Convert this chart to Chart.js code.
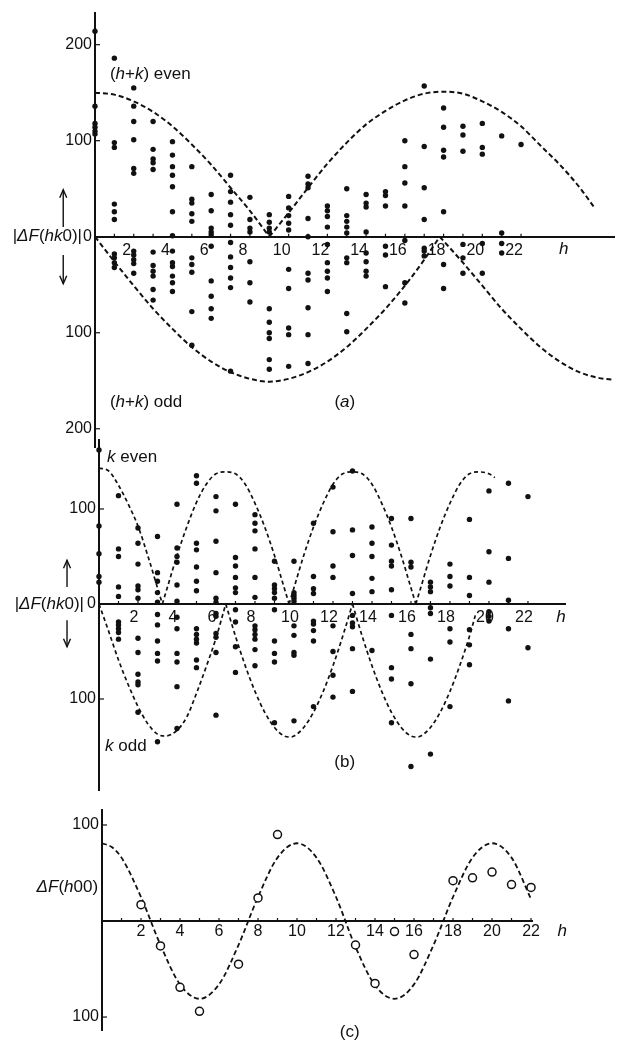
<!DOCTYPE html>
<html>
<head>
<meta charset="utf-8">
<script src="https://cdn.jsdelivr.net/npm/chart.js@4.4.1/dist/chart.umd.min.js"></script>
<style>
  html, body { margin: 0; padding: 0; background: #fff; }
  body { width: 618px; height: 1042px; position: relative; overflow: hidden; }
  canvas { position: absolute; left: 0; }
</style>
</head>
<body>
<canvas id="chartA" width="618" height="460" style="top:0px"></canvas>
<canvas id="chartB" width="618" height="370" style="top:430px"></canvas>
<canvas id="chartC" width="618" height="242" style="top:800px"></canvas>
<script>
const INK = '#111';

// labelled h values on every panel, and value-axis ticks per panel
const hLabels = [2, 4, 6, 8, 10, 12, 14, 16, 18, 20, 22];
const yTicksA = [200, 100, 0, -100, -200];
const yTicksB = [100, 0, -100];
const yTicksC = [100, -100];

// (a) |ΔF(hk0)|, one list per h = 0..22
const evenA = [
  [214, 136, 118, 114, 110, 107], [186, 98, 93, 34, 26, 18], [155, 136, 120, 101, 71, 66],
  [120, 91, 81, 77, 70], [99, 85, 73, 64, 52, 26, 1], [73, 39, 35, 24, 16],
  [44, 27, 9, 5, 2], [64, 47, 36, 23, 12], [41, 18, 9, 5], [23, 15, 9, 5],
  [42, 30, 22, 14, 7], [63, 55, 51, 19, 0], [32, 27, 21, 10], [50, 22, 16, 10, 4],
  [44, 35, 31, 5], [47, 43, 32], [100, 73, 56, 32], [157, 94, 51, 18],
  [134, 114, 90, 83, 26], [115, 106, 89], [118, 93, 86], [105, 4], [96]
];
const oddA = [
  [], [18, 22, 27, 32], [15, 19, 24, 28, 38], [16, 30, 36, 41, 55, 66],
  [15, 27, 31, 41, 48, 57], [22, 29, 37, 78, 113], [10, 46, 62, 75, 85],
  [6, 21, 32, 43, 53, 140], [26, 48, 68], [75, 89, 100, 106, 128, 138],
  [34, 54, 95, 102, 135], [38, 45, 74, 102, 132], [8, 27, 36, 43, 57],
  [22, 27, 80, 99], [17, 26, 36, 41], [10, 19, 52], [4, 48, 69], [12, 15, 20],
  [29, 54], [8, 22, 38], [7, 38], [7, 17], []
];

// (b) |ΔF(hk0)|, one list per h = 0..22
const evenB = [
  [162, 82, 53, 29, 23], [114, 58, 50, 18, 8], [80, 64, 42, 19, 15, 6], [71, 33, 24, 12, 2],
  [105, 59, 50, 44, 20, 3], [135, 127, 64, 57, 39, 24, 14], [113, 98, 66, 33, 6, 2],
  [105, 49, 40, 28, 17, 12], [94, 85, 77, 58, 28, 7], [45, 20, 16, 12, 6], [45, 12, 9, 6, 3],
  [85, 29, 16, 11], [123, 76, 40, 28], [140, 78, 51, 11], [81, 64, 50, 27, 13],
  [90, 62, 45, 40, 15], [90, 44, 39], [23, 18, 13], [42, 29, 19], [89, 28, 9],
  [119, 55, 23], [127, 48, 4], [113]
];
const oddB = [
  [], [19, 22, 26, 30, 37], [36, 51, 74, 82, 85, 114], [11, 22, 39, 52, 60, 145],
  [14, 26, 52, 61, 87, 131], [26, 32, 37, 41, 59, 67], [10, 13, 31, 35, 51, 117],
  [6, 19, 45, 72], [23, 27, 32, 37, 48, 65], [6, 39, 52, 61, 125], [23, 33, 51, 54, 123],
  [18, 21, 28, 39, 108], [23, 50, 75, 98], [12, 20, 24, 47, 92], [49], [12, 67, 79, 125],
  [32, 47, 84, 171], [4, 10, 58, 158], [26, 40, 108], [27, 43, 64], [8, 13, 18], [26, 102], [46]
];

// (c) ΔF(h00)
const hC = [2, 3, 4, 5, 7, 8, 9, 13, 14, 15, 16, 18, 19, 20, 21, 22];
const fC = [17, -26, -69, -94, -45, 24, 90, -25, -65, -11, -35, 42, 45, 51, 38, 35];

// calculated curves as [h, value]; a null value breaks the line at a cusp
const curveEvenA = [
  [0, 150], [1, 148], [2, 141], [3, 130], [4, 115], [5, 96], [6, 75], [7, 51], [8, 27], [9, 0],
  [9, null], [9, 0], [10, 25], [11, 51], [12, 76], [13, 98], [14, 117], [15, 131], [16, 142],
  [17, 149], [18, 151], [19, 149], [20, 141], [21, 130], [22, 115], [23, 95], [24, 75], [25, 52], [25.8, 30]
];
const curveOddA = [
  [0, 0], [1, 26], [2, 51], [3, 75], [4, 96], [5, 115], [6, 130], [7, 141], [8, 148], [9, 151],
  [10, 148], [11, 141], [12, 130], [13, 115], [14, 96], [15, 75], [16, 51], [17, 24], [17.8, 0],
  [17.8, null], [17.8, 0], [19, 27], [20, 51], [21, 75], [22, 96], [23, 115], [24, 130], [25, 141],
  [26, 147], [26.8, 149]
];
const curveEvenB = [
  [0, 143], [0.5, 140], [1, 125], [1.5, 105], [2, 82], [2.5, 51], [3, 17], [3.25, 0],
  [3.25, null], [3.25, 0], [3.5, 17], [4, 51], [4.5, 81], [5, 107], [5.5, 126], [6, 137], [6.5, 139],
  [7, 137], [7.5, 126], [8, 106], [8.5, 81], [9, 51], [9.5, 17], [9.75, 0],
  [9.75, null], [9.75, 0], [10, 17], [10.5, 51], [11, 81], [11.5, 106], [12, 126], [12.5, 137], [13, 139],
  [13.5, 137], [14, 126], [14.5, 106], [15, 81], [15.5, 51], [16, 17], [16.25, 0],
  [16.25, null], [16.25, 0], [16.5, 17], [17, 51], [17.5, 81], [18, 106], [18.5, 126], [19, 137],
  [19.5, 139], [20, 137], [20.3, 133]
];
const curveOddB = [
  [0, 0], [0.5, 29], [1, 59], [1.5, 85], [2, 108], [2.5, 126], [3, 137], [3.4, 139], [4, 133],
  [4.5, 119], [5, 94], [5.5, 66], [6, 36], [6.5, 0],
  [6.5, null], [6.5, 0], [7, 34], [7.5, 65], [8, 92], [8.5, 114], [9, 130], [9.5, 139], [9.75, 140],
  [10, 139], [10.5, 130], [11, 114], [11.5, 92], [12, 65], [12.5, 34], [13, 0],
  [13, null], [13, 0], [13.5, 34], [14, 65], [14.5, 92], [15, 114], [15.5, 130], [16, 139], [16.25, 140],
  [16.5, 139], [17, 130], [17.5, 114], [18, 92], [18.5, 65], [19, 34], [19.3, 12]
];
const curveC = [
  [0, 81], [0.5, 77], [1, 66], [2, 25], [3, -25], [4, -66], [5, -81], [6, -66], [7, -25], [8, 25],
  [9, 66], [10, 81], [11, 66], [12, 25], [13, -27], [14, -67], [15, -81], [16, -66], [17, -25],
  [18, 25], [19, 66], [20, 81], [21, 66], [22, 23]
];

Chart.defaults.font.family = '"Liberation Sans", Arial, sans-serif';
Chart.defaults.font.size = 16;
Chart.defaults.color = INK;

function columnsToPoints(cols, sign) {
  const pts = [];
  cols.forEach((vals, h) => vals.forEach(v => pts.push({ x: h, y: sign * v })));
  return pts;
}
function curveToPoints(pairs, sign) {
  return pairs.map(([h, v]) => ({ x: h, y: v === null ? null : sign * v }));
}

function dots(data) {
  return { data, pointRadius: 2.7, pointBackgroundColor: INK, pointBorderWidth: 0, clip: false };
}
function dashed(data, width, dash) {
  return {
    data, showLine: true, pointRadius: 0, borderColor: INK, borderWidth: width, borderDash: dash,
    cubicInterpolationMode: 'monotone', spanGaps: false, clip: false
  };
}

// text made of upright and italic pieces, e.g. |ΔF(hk0)|
function drawRuns(ctx, runs, x, y, align, size) {
  const fonts = runs.map(r => (r[1] ? 'italic ' : '') + size + 'px "Liberation Sans", Arial, sans-serif');
  let total = 0;
  const widths = runs.map((r, i) => {
    ctx.font = fonts[i];
    const w = ctx.measureText(r[0]).width;
    total += w;
    return w;
  });
  let cx = align === 'right' ? x - total : align === 'center' ? x - total / 2 : x;
  ctx.textAlign = 'left';
  ctx.textBaseline = 'middle';
  runs.forEach((r, i) => {
    ctx.font = fonts[i];
    ctx.fillText(r[0], cx, y);
    cx += widths[i];
  });
}

const figureMarks = {
  id: 'figureMarks',
  afterDraw(chart, args, opts) {
    const { ctx } = chart;
    const xs = chart.scales.x, ys = chart.scales.y;
    ctx.save();
    ctx.strokeStyle = INK;
    ctx.fillStyle = INK;
    ctx.lineWidth = 1.2;
    // short marks above the h axis at every unit
    const y0 = ys.getPixelForValue(0);
    for (let h = 1; h <= 22; h++) {
      const px = xs.getPixelForValue(h);
      ctx.beginPath(); ctx.moveTo(px, y0); ctx.lineTo(px, y0 - 3); ctx.stroke();
    }
    // value ticks pointing into the plot
    opts.yTicks.forEach(v => {
      if (v === 0) return;
      const py = ys.getPixelForValue(v);
      ctx.beginPath(); ctx.moveTo(xs.left, py); ctx.lineTo(xs.left + 5, py); ctx.stroke();
    });
    (opts.labels || []).forEach(l => {
      drawRuns(ctx, l.runs, xs.getPixelForValue(l.h), ys.getPixelForValue(l.v), l.align || 'left', l.size || 17);
    });
    (opts.arrows || []).forEach(a => {
      const px = xs.getPixelForValue(a.h);
      const p1 = ys.getPixelForValue(a.from), p2 = ys.getPixelForValue(a.to);
      const dir = Math.sign(p2 - p1);
      ctx.lineWidth = 1.4;
      ctx.beginPath(); ctx.moveTo(px, p1); ctx.lineTo(px, p2); ctx.stroke();
      ctx.beginPath();
      ctx.moveTo(px - 3.5, p2 - dir * 8); ctx.lineTo(px, p2); ctx.lineTo(px + 3.5, p2 - dir * 8);
      ctx.stroke();
    });
    ctx.restore();
  }
};

function makeChart(id, datasets, cfg) {
  return new Chart(document.getElementById(id), {
    type: 'scatter',
    data: { datasets },
    options: {
      responsive: false,
      animation: false,
      events: [],
      layout: { padding: cfg.padding },
      plugins: {
        legend: { display: false },
        tooltip: { enabled: false },
        figureMarks: cfg.marks
      },
      scales: {
        x: {
          type: 'linear', min: 0, max: cfg.hMax,
          position: { y: 0 },
          grid: { drawOnChartArea: false, drawTicks: false },
          border: { color: INK, width: 2 },
          ticks: { padding: cfg.hPad, labelOffset: cfg.hShift, autoSkip: false, maxRotation: 0 },
          afterBuildTicks: sc => { sc.ticks = hLabels.map(v => ({ value: v })); },
          afterFit: sc => { sc.paddingLeft = 0; sc.paddingRight = 0; }
        },
        y: {
          type: 'linear', min: cfg.vMin, max: cfg.vMax, position: 'left',
          grid: { drawOnChartArea: false, drawTicks: false },
          border: { color: INK, width: 2 },
          ticks: { padding: 3, callback: v => String(Math.abs(v)) },
          afterBuildTicks: sc => { sc.ticks = cfg.marks.yTicks.map(v => ({ value: v })); },
          afterFit: sc => { sc.width = cfg.yWidth; sc.paddingTop = 0; sc.paddingBottom = 0; }
        }
      }
    },
    plugins: [figureMarks]
  });
}

const absLabel = [['|', 0], ['ΔF', 1], ['(', 0], ['hk', 1], ['0)|', 0]];

// (a) (h+k) even above the axis, (h+k) odd below
makeChart('chartA', [
  dots(columnsToPoints(evenA, 1)),
  dots(columnsToPoints(oddA, -1)),
  dashed(curveToPoints(curveEvenA, 1), 2, [5, 3]),
  dashed(curveToPoints(curveOddA, -1), 2, [5, 3])
], {
  padding: { top: 13, bottom: 13, left: 0, right: 0 },
  yWidth: 95, hMax: 26.8, vMin: -219, vMax: 233, hPad: 4, hShift: -7,
  marks: {
    yTicks: yTicksA,
    labels: [
      { h: 0.77, v: 169, runs: [['(', 0], ['h', 1], ['+', 0], ['k', 1], [') even', 0]] },
      { h: 0.77, v: -172, runs: [['(', 0], ['h', 1], ['+', 0], ['k', 1], [') odd', 0]] },
      { h: 12.9, v: -172, align: 'center', runs: [['(', 0], ['a', 1], [')', 0]] },
      { h: 24.2, v: -13.5, align: 'center', runs: [['h', 1]] },
      { h: -0.67, v: 0, align: 'right', runs: absLabel }
    ],
    arrows: [{ h: -1.64, from: 10, to: 49 }, { h: -1.64, from: -19, to: -49 }]
  }
});

// (b) k even above the axis, k odd below
makeChart('chartB', [
  dots(columnsToPoints(evenB, 1)),
  dots(columnsToPoints(oddB, -1)),
  dashed(curveToPoints(curveEvenB, 1), 1.7, [4, 3]),
  dashed(curveToPoints(curveOddB, -1), 1.7, [4, 3])
], {
  padding: { top: 10, bottom: 10, left: 0, right: 53 },
  yWidth: 99, hMax: 23.9, vMin: -195.8, vMax: 172.6, hPad: 4, hShift: -4,
  marks: {
    yTicks: yTicksB,
    labels: [
      { h: 0.41, v: 154, runs: [['k', 1], [' even', 0]] },
      { h: 0.31, v: -150, runs: [['k', 1], [' odd', 0]] },
      { h: 12.6, v: -167, align: 'center', runs: [['(b)', 0]] },
      { h: 23.7, v: -13.7, align: 'center', runs: [['h', 1]] },
      { h: -0.77, v: 0, align: 'right', runs: absLabel }
    ],
    arrows: [{ h: -1.64, from: 18, to: 46 }, { h: -1.64, from: -17, to: -45 }]
  }
});

// (c) ΔF(h00) with open circles
const circles = hC.map((h, i) => ({ x: h, y: fC[i] }));
makeChart('chartC', [
  { data: circles, pointRadius: 4, pointBackgroundColor: '#fff', pointBorderColor: INK, pointBorderWidth: 1.5, clip: false },
  dashed(curveToPoints(curveC, 1), 1.8, [5, 3])
], {
  padding: { top: 10, bottom: 12, left: 0, right: 86 },
  yWidth: 102, hMax: 22.05, vMin: -113.5, vMax: 115.6, hPad: 1, hShift: 0,
  marks: {
    yTicks: yTicksC,
    labels: [
      { h: -0.2, v: 35, align: 'right', runs: [['ΔF', 1], ['(', 0], ['h', 1], ['00)', 0]] },
      { h: 12.7, v: -115.6, align: 'center', runs: [['(c)', 0]] },
      { h: 23.6, v: -10.4, align: 'center', runs: [['h', 1]] }
    ]
  }
});
</script>
</body>
</html>
